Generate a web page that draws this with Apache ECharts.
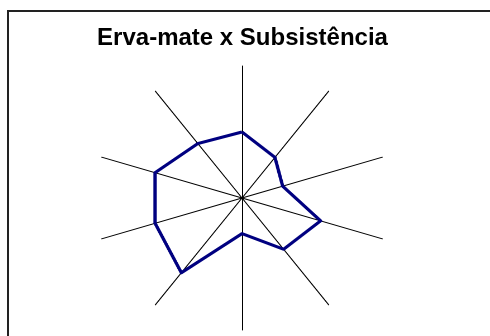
<!DOCTYPE html>
<html>
<head>
<meta charset="utf-8">
<script src="https://cdn.jsdelivr.net/npm/echarts@6/dist/echarts.min.js"></script>
<style>
  html, body { margin: 0; padding: 0; background: #fff; }
  #wrap { position: relative; width: 490px; height: 336px; overflow: hidden; }
  #frame { position: absolute; left: 0; top: 0; width: 490px; height: 336px; }
  /* the original radar is a bit wider than tall */
  #radar {
    position: absolute; left: 91.5px; top: 47.7px; width: 300px; height: 300px;
    transform: scaleX(1.117); transform-origin: 50% 50%;
  }
</style>
</head>
<body>
<div id="wrap">
  <div id="frame"></div>
  <div id="radar"></div>
</div>
<script>
// spokes listed counterclockwise from the top (echarts radar order)
const categories = ['1', '10', '9', '8', '7', '6', '5', '4', '3', '2'];
const values = [5.0, 5.1, 6.2, 6.2, 7.0, 2.7, 4.8, 5.6, 2.9, 3.8];
const maxValue = 10;
const titleText = 'Erva-mate x Subsistência';

const frame = echarts.init(document.getElementById('frame'));
frame.setOption({
  animation: false,
  graphic: [{
    type: 'rect',
    shape: { x: 8, y: 11, width: 600, height: 400 },
    style: { fill: 'none', stroke: '#222', lineWidth: 2 },
  }, {
    type: 'text',
    x: 242.5,
    y: 38,
    style: {
      text: titleText,
      font: 'bold 24px "Liberation Sans", Arial, sans-serif',
      fill: '#000',
      textAlign: 'center',
      textVerticalAlign: 'middle',
    },
  }],
});

// drawn at 2x so the stretch stays sharp
const radar = echarts.init(document.getElementById('radar'), null, { devicePixelRatio: 2 });
radar.setOption({
  animation: false,
  radar: {
    center: ['50%', '50%'],
    radius: 132,
    startAngle: 90,
    indicator: categories.map((name) => ({ name, max: maxValue })),
    axisName: { show: false },
    axisLine: { lineStyle: { color: '#000', width: 1 } },
    splitLine: { show: false },
    splitArea: { show: false },
    axisTick: { show: false },
    axisLabel: { show: false },
  },
  series: [{
    type: 'radar',
    symbol: 'none',
    lineStyle: { color: '#000080', width: 3 },
    data: [{ value: values, name: titleText }],
  }],
});
</script>
</body>
</html>
